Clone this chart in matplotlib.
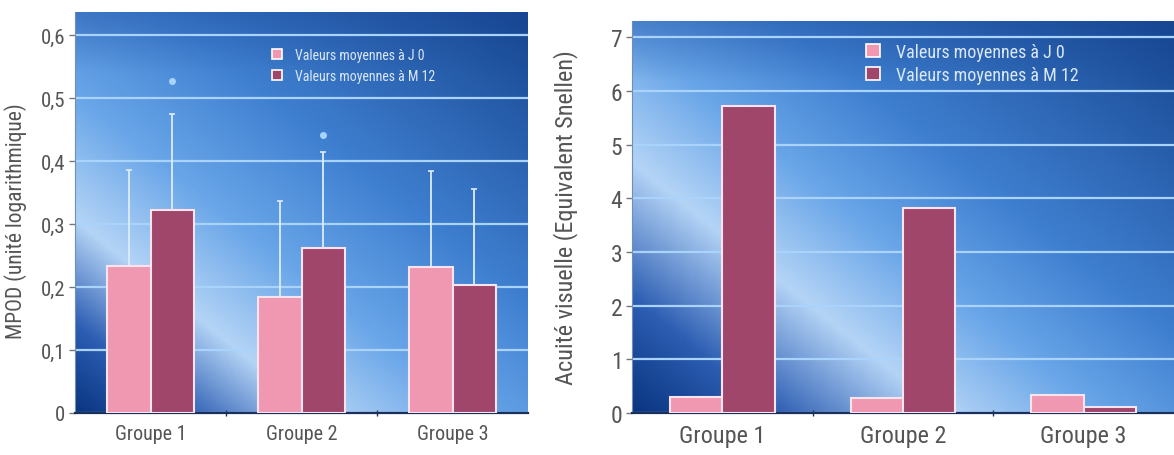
import numpy as np
import matplotlib.pyplot as plt
from matplotlib.colors import LinearSegmentedColormap
from matplotlib.patches import Patch

plt.rcParams['font.family'] = ['Roboto Condensed', 'Archivo Narrow', 'DejaVu Sans']

# donnees
groupes = ['Groupe 1', 'Groupe 2', 'Groupe 3']
series = ['Valeurs moyennes à J 0', 'Valeurs moyennes à M 12']

mpod_j0 = [0.233, 0.184, 0.232]
mpod_m12 = [0.322, 0.262, 0.203]
mpod_j0_haut = [0.386, 0.337, 0.384]   # haut des barres d'erreur
mpod_m12_haut = [0.475, 0.414, 0.356]
mpod_etoile = [0.527, 0.441]           # * au dessus de M 12, groupes 1 et 2

acuite_j0 = [0.30, 0.28, 0.335]
acuite_m12 = [5.72, 3.82, 0.12]

mpod_ticks = [0, 0.1, 0.2, 0.3, 0.4, 0.5, 0.6]
mpod_labels = ['0', '0,1', '0,2', '0,3', '0,4', '0,5', '0,6']
acuite_ticks = [0, 1, 2, 3, 4, 5, 6, 7]

rose = '#f097b1'
bordeaux = '#a1466b'
bord = '#f7e4ee'
gris = '#555555'

W, H = 1174, 456
fig = plt.figure(figsize=(W / 100, H / 100), dpi=100)
ax1 = fig.add_axes([75 / W, 42 / H, 453 / W, 401 / H])
ax2 = fig.add_axes([632 / W, 42 / H, 542 / W, 392 / H])


def fond_degrade(ax, w_px, h_px, bande):
    # degrade bleu en diagonale, bande claire pres du coin bas-gauche
    X, Y = np.meshgrid(np.linspace(0, w_px, 300), np.linspace(0, h_px, 240))
    d = X * 0.625 + Y * 0.78
    dmax = d.max()
    stops = [(0, '#0a3580'), (bande * 0.45, '#2c5db2'), (bande, '#b4d4f6'),
             (bande + 100, '#68a5e8'), (dmax * 0.62, '#3f7fd0'), (dmax, '#164690')]
    cmap = LinearSegmentedColormap.from_list('fond', [(p / dmax, c) for p, c in stops])
    img = cmap(d / dmax)[..., :3]
    # bandeau plus sombre en haut
    haut = np.clip((Y - (h_px - 60)) / 60, 0, 1)[..., None]
    img = img * (1 - 0.35 * haut) + np.array([0.10, 0.28, 0.60]) * 0.35 * haut
    ax.imshow(img, origin='lower', extent=[*ax.get_xlim(), *ax.get_ylim()],
              aspect='auto', zorder=0, interpolation='bilinear')


def habillage(ax, ticks, labels, ylabel, fs_tick, fs_grp, fs_lab, fs_leg, leg_pos, esp):
    ax.set_xlim(-0.5, 2.5)
    ax.set_yticks(ticks)
    ax.set_yticklabels(labels)
    ax.tick_params(axis='y', length=4, width=1, color='#777777', labelsize=fs_tick,
                   labelcolor=gris, pad=3)
    ax.set_xticks(range(len(groupes)))
    ax.set_xticklabels(groupes)
    ax.tick_params(axis='x', which='major', length=0, labelsize=fs_grp, labelcolor=gris, pad=8)
    ax.set_xticks([0.5, 1.5], minor=True)
    ax.tick_params(axis='x', which='minor', length=5, width=1, color='#1a2f5a', direction='inout')
    ax.set_ylabel(ylabel, color=gris, fontsize=fs_lab)
    ax.grid(axis='y', color='#a9d3fa', lw=1.6)
    ax.set_axisbelow(True)
    for s in ['top', 'right']:
        ax.spines[s].set_visible(False)
    ax.spines['left'].set_color('#6f8fb8')
    ax.spines['bottom'].set_color('#1a2f5a')
    ax.spines['bottom'].set_linewidth(1.6)
    poignees = [Patch(facecolor=rose, edgecolor='white', lw=1.2),
                Patch(facecolor=bordeaux, edgecolor='white', lw=1.2)]
    ax.legend(poignees, series, loc='upper left', bbox_to_anchor=leg_pos, frameon=False,
              fontsize=fs_leg, labelcolor='#dbe8f8', handlelength=0.75, handleheight=0.75,
              handletextpad=0.9, borderpad=0, borderaxespad=0, labelspacing=esp)


x = np.arange(len(groupes))
larg = 0.29

# panneau gauche : MPOD
ax1.set_ylim(0, 0.637)
ax1.set_xlim(-0.5, 2.5)
fond_degrade(ax1, 453, 401, 150)
ax1.bar(x - larg / 2, mpod_j0, larg, color=rose, edgecolor=bord, lw=1.5, zorder=3)
ax1.bar(x + larg / 2, mpod_m12, larg, color=bordeaux, edgecolor=bord, lw=1.5, zorder=3)
err_j0 = np.array(mpod_j0_haut) - np.array(mpod_j0)
err_m12 = np.array(mpod_m12_haut) - np.array(mpod_m12)
ax1.errorbar(x - larg / 2, mpod_j0, yerr=[np.zeros(3), err_j0], fmt='none',
             ecolor='#dcecfd', elinewidth=1.3, capsize=2, capthick=1.2, zorder=2)
ax1.errorbar(x + larg / 2, mpod_m12, yerr=[np.zeros(3), err_m12], fmt='none',
             ecolor='#dcecfd', elinewidth=1.3, capsize=2, capthick=1.2, zorder=2)
ax1.plot(x[:2] + larg / 2, mpod_etoile, ls='none', marker='o', ms=4,
         color='#a9d3fa', zorder=4)
habillage(ax1, mpod_ticks, mpod_labels, 'MPOD (unité logarithmique)', 15, 14.5, 15.5, 10,
          (0.435, 0.91), 0.5)
ax1.yaxis.set_label_coords(-0.105, 0.48)

# panneau droit : acuite visuelle
ax2.set_ylim(0, 7.3)
ax2.set_xlim(-0.5, 2.5)
fond_degrade(ax2, 542, 392, 195)
ax2.bar(x - larg / 2, acuite_j0, larg, color=rose, edgecolor=bord, lw=1.5, zorder=3)
ax2.bar(x + larg / 2, acuite_m12, larg, color=bordeaux, edgecolor=bord, lw=1.5, zorder=3)
habillage(ax2, acuite_ticks, [str(t) for t in acuite_ticks],
          'Acuité visuelle (Equivalent Snellen)', 17, 17.5, 17.5, 13, (0.432, 0.945), 0.3)
ax2.yaxis.set_label_coords(-0.1, 0.5)

fig.savefig('out.png', dpi=100)
